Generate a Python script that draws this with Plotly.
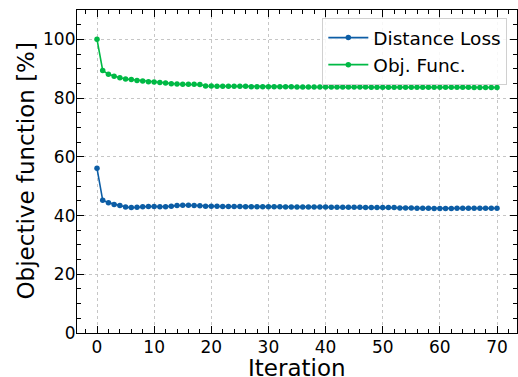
import plotly.graph_objects as go

iterations = list(range(71))

distance_loss = [
    56.1, 45.2, 44.4, 43.8, 43.4, 42.9, 42.7, 42.8, 43.0, 43.1,
    43.1, 43.0, 43.0, 43.2, 43.4, 43.5, 43.5, 43.4, 43.3, 43.2,
    43.2, 43.2, 43.1, 43.1, 43.1, 43.1, 43.0, 43.0, 43.0, 43.0,
    43.0, 43.0, 43.0, 42.9, 42.9, 42.9, 42.9, 42.9, 42.9, 42.9,
    42.9, 42.8, 42.8, 42.8, 42.8, 42.8, 42.8, 42.7, 42.7, 42.7,
    42.7, 42.7, 42.7, 42.6, 42.6, 42.6, 42.5, 42.5, 42.5, 42.4,
    42.4, 42.4, 42.4, 42.5, 42.5, 42.5, 42.5, 42.5, 42.5, 42.5,
    42.5,
]

obj_func = [
    100.0, 89.4, 88.1, 87.4, 86.9, 86.5, 86.3, 86.0, 85.8, 85.6,
    85.5, 85.3, 85.1, 84.9, 84.8, 84.7, 84.7, 84.7, 84.6, 84.1,
    84.1, 84.0, 84.0, 84.0, 84.0, 84.0, 84.0, 83.9, 83.9, 83.9,
    83.9, 83.9, 83.9, 83.9, 83.9, 83.8, 83.8, 83.8, 83.8, 83.8,
    83.8, 83.8, 83.8, 83.8, 83.8, 83.8, 83.8, 83.8, 83.7, 83.7,
    83.7, 83.7, 83.7, 83.7, 83.7, 83.7, 83.7, 83.7, 83.7, 83.7,
    83.7, 83.7, 83.7, 83.7, 83.7, 83.7, 83.6, 83.6, 83.6, 83.6,
    83.6,
]

series_names = ["Distance Loss", "Obj. Func."]
series_colors = ["#0C5DA5", "#00B945"]
x_title = "Iteration"
y_title = "Objective function [%]"

FONT = "DejaVu Sans"

fig = go.Figure()
for name, vals, col in zip(series_names, [distance_loss, obj_func], series_colors):
    fig.add_trace(go.Scatter(
        x=iterations, y=vals, name=name, mode="lines+markers",
        line=dict(color=col, width=1.6),
        marker=dict(color=col, size=5.5),
    ))

axis_common = dict(
    showline=True, linecolor="black", linewidth=1.2, mirror="allticks",
    ticks="inside", ticklen=7, tickwidth=1.1, tickcolor="black",
    showgrid=True, gridcolor="#c6c6c6", griddash="dot", gridwidth=0.7,
    zeroline=False, automargin=False,
    tickfont=dict(family=FONT, size=17, color="black"),
)

fig.update_xaxes(
    range=[-3.5, 73.5], dtick=10, tick0=0, ticklabelstandoff=-2,
    minor=dict(ticks="inside", ticklen=3.5, tickcolor="black", dtick=2, tick0=0, showgrid=False),
    **axis_common,
)
fig.update_yaxes(
    range=[0, 110], dtick=20, tick0=0, ticklabelstandoff=-3,
    minor=dict(ticks="inside", ticklen=3.5, tickcolor="black", dtick=5, tick0=0, showgrid=False),
    **axis_common,
)

fig.add_annotation(
    text=x_title, xref="paper", yref="paper", x=0.5, y=0,
    xanchor="center", yanchor="middle", yshift=-35, showarrow=False,
    font=dict(family=FONT, size=23, color="black"),
)
fig.add_annotation(
    text=y_title, xref="paper", yref="paper", x=0, y=0.5, textangle=-90,
    xanchor="center", yanchor="middle", xshift=-52, showarrow=False,
    font=dict(family=FONT, size=23, color="black"),
)

fig.update_layout(
    width=518, height=377,
    margin=dict(l=77, r=1, t=10, b=44),
    plot_bgcolor="white", paper_bgcolor="white",
    font=dict(family=FONT, color="black"),
    legend=dict(
        x=0.978, y=0.975, xanchor="right", yanchor="top",
        bgcolor="rgba(255,255,255,0.85)", bordercolor="#d0d0d0", borderwidth=1,
        font=dict(family=FONT, size=18.5, color="black"),
        itemwidth=40, tracegroupgap=2,
    ),
)

fig.write_html(
    "out.html",
    config={"displayModeBar": False},
    post_script="document.body.style.margin='0';document.body.style.overflow='hidden';",
)
